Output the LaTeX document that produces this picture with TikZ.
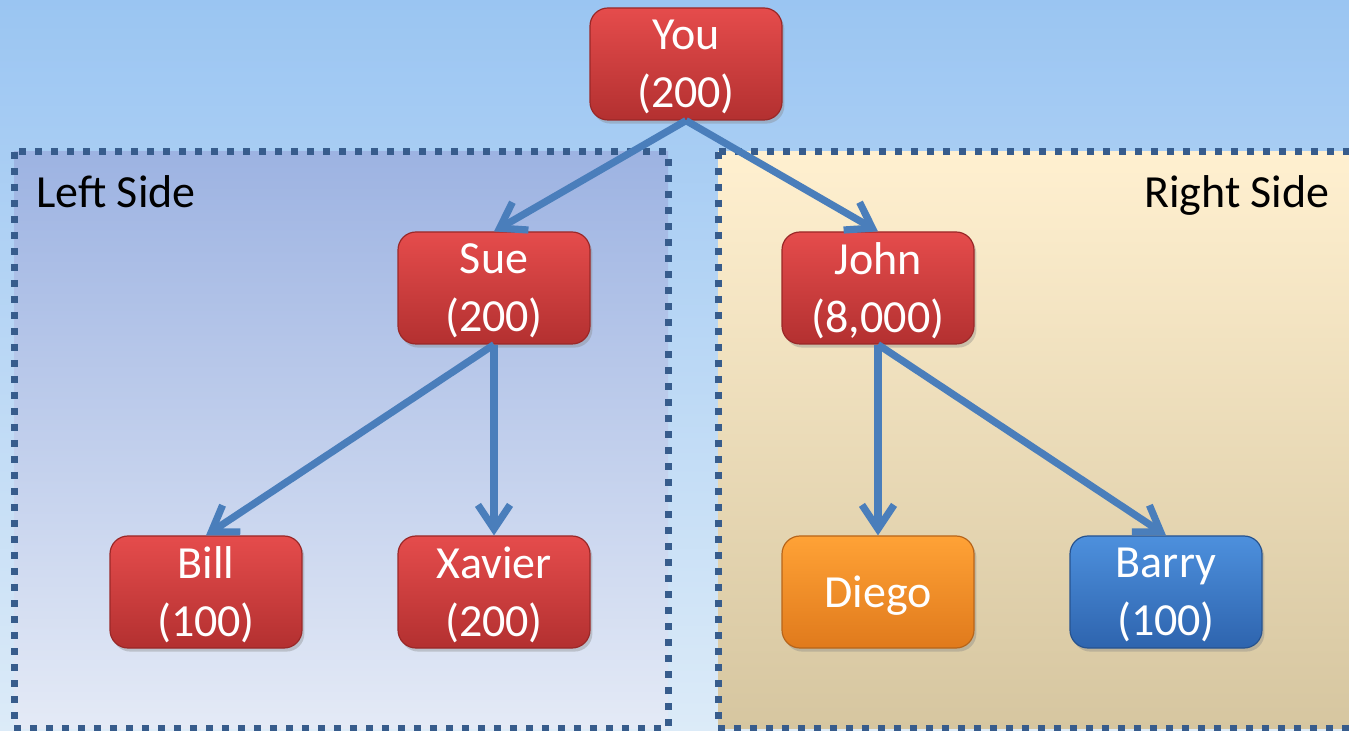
\documentclass[tikz,border=0pt]{standalone}
\usepackage{fontspec}
\setmainfont{Carlito}
\usetikzlibrary{arrows.meta,shadows}
\definecolor{skytop}{HTML}{9AC5F2}
\definecolor{skybot}{HTML}{DCEBF8}
\definecolor{lefttop}{HTML}{9DB3E2}
\definecolor{leftbot}{HTML}{E4EAF6}
\definecolor{righttop}{HTML}{FFF0D0}
\definecolor{rightbot}{HTML}{D6C6A0}
\definecolor{dashcol}{HTML}{375C8C}
\definecolor{arrowcol}{HTML}{4A7EBB}
\definecolor{redtop}{HTML}{E54C4C}
\definecolor{redbot}{HTML}{B33030}
\definecolor{redline}{HTML}{9A2828}
\definecolor{orgtop}{HTML}{FFA236}
\definecolor{orgbot}{HTML}{E07A1C}
\definecolor{orgline}{HTML}{B8651A}
\definecolor{blutop}{HTML}{4D90DD}
\definecolor{blubot}{HTML}{2E64AE}
\definecolor{bluline}{HTML}{27538F}
\tikzset{
  box/.style={rounded corners=9pt, minimum width=96pt, minimum height=56pt,
    align=center, text=white, inner sep=0pt, text depth=-3pt,
    font=\fontsize{23}{29}\selectfont,
    drop shadow={shadow xshift=1.2pt, shadow yshift=-1.8pt, opacity=0.35}},
  redbox/.style={box, top color=redtop, bottom color=redbot, draw=redline, line width=0.6pt},
  orangebox/.style={box, top color=orgtop, bottom color=orgbot, draw=orgline, line width=0.6pt},
  bluebox/.style={box, top color=blutop, bottom color=blubot, draw=bluline, line width=0.6pt},
  panelborder/.style={draw=dashcol, line width=3.5pt, dash pattern=on 3.5pt off 4.5pt},
  conn/.style={draw=arrowcol, line width=3.6pt, -{Straight Barb[length=12pt,width=16pt]}},
  sidelabel/.style={font=\fontsize{23}{29}\selectfont, text=black, inner sep=0pt}
}
\begin{document}
\begin{tikzpicture}[x=0.5pt,y=-0.5pt]
\clip (0,0) rectangle (1349,731);
% sky background
\shade[top color=skytop, bottom color=skybot] (0,0) rectangle (1349,731);
% panels
\shade[top color=lefttop, bottom color=leftbot] (14,152) rectangle (668,728);
\shade[top color=righttop, bottom color=rightbot] (718,152) rectangle (1370,728);
\draw[panelborder] (14,152) rectangle (668,728);
\draw[panelborder] (718,152) rectangle (1370,728);
% labels
\node[sidelabel, anchor=base west] (leftlab) at (36,208) {Left Side};
\node[sidelabel, anchor=base east] (rightlab) at (1330,208) {Right Side};
% nodes
\node[redbox] (you) at (686,64) {You\\(200)};
\node[redbox] (sue) at (494,288) {Sue\\(200)};
\node[redbox] (john) at (878,288) {John\\(8,000)};
\node[redbox] (bill) at (206,592) {Bill\\(100)};
\node[redbox] (xavier) at (494,592) {Xavier\\(200)};
\node[orangebox] (diego) at (878,592) {Diego};
\node[bluebox] (barry) at (1166,592) {Barry\\(100)};
% connectors
\draw[conn] (you.south) -- (sue.north);
\draw[conn] (you.south) -- (john.north);
\draw[conn] (sue.south) -- (bill.north);
\draw[conn] (sue.south) -- (xavier.north);
\draw[conn] (john.south) -- (diego.north);
\draw[conn] (john.south) -- (barry.north);
\end{tikzpicture}
\end{document}
